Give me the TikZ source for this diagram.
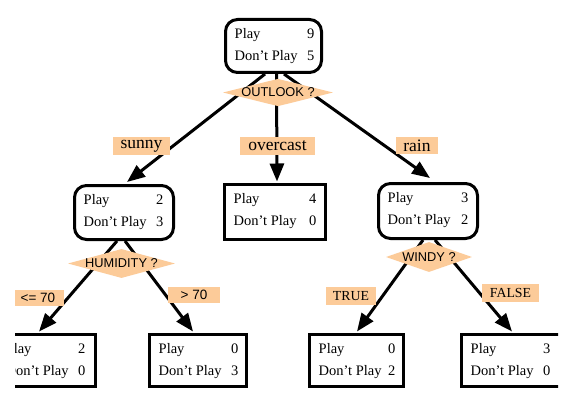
\documentclass[tikz,border=0pt]{standalone}
\usepackage{fontspec}
\setmainfont{Liberation Serif}
\newfontfamily\sansf{Liberation Sans}
\usetikzlibrary{arrows.meta,shapes.geometric,calc}
\definecolor{peach}{HTML}{FCCB99}
\tikzset{
  box/.style={draw, line width=3pt, inner sep=0pt, fill=white},
  rbox/.style={box, rounded corners=12pt},
  dia/.style={shape=diamond, fill=peach, inner sep=0pt, font=\sansf\fontsize{12.8}{14}\selectfont},
  elab/.style={fill=peach, inner sep=0pt, minimum height=17pt, font=\fontsize{17.5}{18}\selectfont},
  clab/.style={elab, font=\fontsize{13.8}{14}\selectfont},
  slab/.style={fill=peach, inner sep=0pt, minimum height=16pt, font=\sansf\fontsize{13.5}{14}\selectfont},
  conn/.style={line width=3pt, -{Triangle[length=18pt,width=14pt]}},
  txt/.style={font=\fontsize{14.5}{16}\selectfont, inner sep=0pt},
}
\newcommand\fillbox[4]{%
  \node[txt,anchor=base west] (#1-p) at ($(#1.north west)+(10.5,20.5)$) {Play};
  \node[txt,anchor=base west] (#1-d) at ($(#1.north west)+(10.5,42.5)$) {Don't Play};
  \node[txt,anchor=base east] (#1-n) at ($(#1.north east)+(-#4,20.5)$) {#2};
  \node[txt,anchor=base east] (#1-m) at ($(#1.north east)+(-#4,42.5)$) {#3};
}
\begin{document}
\begin{tikzpicture}[x=1pt,y=-1pt]
\useasboundingbox (0,0) rectangle (570,401);
\fill[white] (0,0) rectangle (570,401);
\clip (15,-5) rectangle (558,406);
% boxes
\node[rbox, minimum width=96pt, minimum height=53pt] (root) at (273.5,46) {};
\node[rbox, minimum width=99pt, minimum height=54pt] (sunny) at (124,212.5) {};
\node[box, minimum width=101pt, minimum height=55pt] (over) at (275,212) {};
\node[rbox, minimum width=99pt, minimum height=55pt] (rain) at (428,211) {};
\node[box, minimum width=99pt, minimum height=52pt] (ll) at (46,360.5) {};
\node[box, minimum width=97pt, minimum height=52pt] (lr) at (198,360.5) {};
\node[box, minimum width=94pt, minimum height=52pt] (rl) at (356.5,360.5) {};
\node[box, minimum width=99pt, minimum height=52pt] (rr) at (511,360.5) {};
% connectors
\draw[conn] ($(root.south)+(-8.5,0)$) -- ($(sunny.north)+(3,-2)$);
\draw[conn] ($(root.south)+(3,0)$) -- ($(over.north)+(2,-1.5)$);
\draw[conn] ($(root.south)+(10.5,0)$) -- ($(rain.north)+(2,-4)$);
\draw[conn] ($(sunny.south)+(-7,0)$) -- ($(ll.north)+(-7,-1.5)$);
\draw[conn] ($(sunny.south)+(1,0)$) -- ($(lr.north)+(-5,-1.5)$);
\draw[conn] ($(rain.south)+(-5,0)$) -- ($(rl.north)+(0.5,-1.5)$);
\draw[conn] ($(rain.south)+(7,0)$) -- ($(rr.north)+(1,-1.5)$);
% diamonds
\node[dia, aspect=4, minimum width=110pt, minimum height=27pt] (q1) at (278,92.5) {OUTLOOK ?};
\node[dia, aspect=3.7, minimum width=107pt, minimum height=29pt] (q2) at (121.5,263.5) {HUMIDITY ?};
\node[dia, aspect=2.87, minimum width=86pt, minimum height=30pt] (q3) at (429,257) {WINDY ?};
% edge labels
\node[elab, minimum width=57pt] (l1) at (141.5,146) {sunny};
\node[elab, minimum width=75pt] (l2) at (277.5,146) {overcast};
\node[elab, minimum width=42pt] (l3) at (417,145.5) {rain};
\node[slab, minimum width=52pt] (l4) at (38,298) {<= 70};
\node[slab, minimum width=52pt] (l5) at (194,295) {> 70};
\node[clab, minimum width=50pt, minimum height=18pt] (l6) at (351,296) {TRUE};
\node[clab, minimum width=57pt, minimum height=18pt] (l7) at (510.5,292.5) {FALSE};
% box texts
\fillbox{root}{9}{5}{8.5}
\fillbox{sunny}{2}{3}{11.5}
\fillbox{over}{4}{0}{10.5}
\fillbox{rain}{3}{2}{10.5}
\fillbox{ll}{2}{0}{11.5}
\fillbox{lr}{0}{3}{9.5}
\fillbox{rl}{0}{2}{9.5}
\fillbox{rr}{3}{0}{11.5}
\end{tikzpicture}
\end{document}
